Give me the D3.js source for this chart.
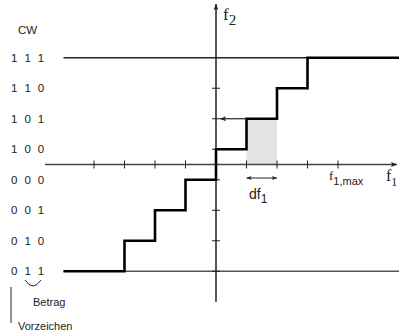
<!DOCTYPE html>
<html>
<head>
<meta charset="utf-8">
<script src="https://cdn.jsdelivr.net/npm/d3@7"></script>
<style>
body{margin:0;background:#fff;}
svg{display:block;}
text{font-family:"Liberation Sans",Arial,sans-serif;fill:#222;}
</style>
</head>
<body>
<div id="chart"></div>
<script>
// codewords, one per quantizer level (top to bottom)
var codewords=["1 1 1","1 1 0","1 0 1","1 0 0","0 0 0","0 0 1","0 1 0","0 1 1"];
var levels=[3.5,2.5,1.5,0.5,-0.5,-1.5,-2.5,-3.5];
// staircase: x where each level starts, last point closes the top step
var stepX=[-5,-3,-2,-1,0,1,2,3,6];
var stepY=[-3.5,-2.5,-1.5,-0.5,0.5,1.5,2.5,3.5,3.5];
var xTicks=[-4,-3,-2,-1,1,2,3,4];
var yTicks=[-3.5,-2.5,-1.5,-0.5,0.5,1.5,2.5];

var W=400,H=333;
var svg=d3.select("#chart").append("svg").attr("width",W).attr("height",H);
var x=d3.scaleLinear().domain([-5,6]).range([63.5,399]);
var y=d3.scaleLinear().domain([-4,4]).range([286.5,42.5]);

var defs=svg.append("defs");
defs.append("marker").attr("id","arr").attr("viewBox","0 0 10 10").attr("refX",10).attr("refY",5)
  .attr("markerWidth",10).attr("markerHeight",6).attr("markerUnits","userSpaceOnUse").attr("orient","auto-start-reverse")
  .append("path").attr("d","M0,1L10,5L0,9L2,5Z").attr("fill","#222");
defs.append("marker").attr("id","arrS").attr("viewBox","0 0 10 10").attr("refX",10).attr("refY",5)
  .attr("markerWidth",8).attr("markerHeight",5).attr("markerUnits","userSpaceOnUse").attr("orient","auto-start-reverse")
  .append("path").attr("d","M0,1L10,5L0,9L2,5Z").attr("fill","#222");

// shaded interval df1
svg.append("rect").attr("x",x(1)).attr("y",y(1.5)).attr("width",x(2)-x(1)).attr("height",y(0)-y(1.5))
  .attr("fill","#e3e3e3");

// max / min level lines
svg.append("line").attr("x1",x(-5)).attr("x2",x(6)).attr("y1",y(3.5)).attr("y2",y(3.5)).attr("stroke","#222").attr("stroke-width",1.3);
svg.append("line").attr("x1",x(-5)).attr("x2",x(6)).attr("y1",y(-3.5)).attr("y2",y(-3.5)).attr("stroke","#555").attr("stroke-width",1.6);

// x axis
svg.append("line").attr("x1",45).attr("x2",397).attr("y1",y(0)).attr("y2",y(0))
  .attr("stroke","#444").attr("stroke-width",1.3).attr("marker-end","url(#arr)");
svg.selectAll(".xt").data(xTicks).enter().append("line")
  .attr("x1",function(d){return x(d);}).attr("x2",function(d){return x(d);})
  .attr("y1",y(0)-4).attr("y2",y(0)+4).attr("stroke","#222").attr("stroke-width",1);

// y axis
svg.append("line").attr("x1",x(0)).attr("x2",x(0)).attr("y1",302).attr("y2",4)
  .attr("stroke","#000").attr("stroke-width",1.3).attr("marker-end","url(#arr)");
svg.selectAll(".yt").data(yTicks).enter().append("line")
  .attr("x1",x(0)-4).attr("x2",x(0)+4)
  .attr("y1",function(d){return y(d);}).attr("y2",function(d){return y(d);})
  .attr("stroke","#222").attr("stroke-width",1);

// staircase
var pts=stepX.map(function(v,i){return [v,stepY[i]];});
var line=d3.line().x(function(d){return x(d[0]);}).y(function(d){return y(d[1]);}).curve(d3.curveStepAfter);
svg.append("path").attr("d",line(pts)).attr("fill","none").attr("stroke","#000").attr("stroke-width",2.6);

// left arrow from step to f2 axis
svg.append("line").attr("x1",x(1)-1).attr("x2",x(0)+4).attr("y1",y(1.5)).attr("y2",y(1.5))
  .attr("stroke","#222").attr("stroke-width",1.2).attr("marker-end","url(#arr)");

// df1 double arrow
svg.append("line").attr("x1",x(1)).attr("x2",x(2)).attr("y1",178).attr("y2",178)
  .attr("stroke","#222").attr("stroke-width",1).attr("marker-start","url(#arrS)").attr("marker-end","url(#arrS)");
var df=svg.append("text").attr("x",249).attr("y",199).style("font-size","14px");
df.append("tspan").text("df");
df.append("tspan").attr("dy",4).style("font-size","12px").text("1");

// f1,max
var fm=svg.append("text").attr("x",329).attr("y",180).style("font-size","13px");
fm.append("tspan").style("font-family","Liberation Serif, serif").text("f");
fm.append("tspan").attr("dy",5).style("font-size","11px").text("1,max");

// axis names
var f1=svg.append("text").attr("x",386).attr("y",181).style("font-family","Liberation Serif, serif").style("font-size","16px");
f1.append("tspan").text("f");
f1.append("tspan").attr("dy",5).style("font-size","12px").text("1");
var f2=svg.append("text").attr("x",223).attr("y",20).style("font-family","Liberation Serif, serif").style("font-size","17px");
f2.append("tspan").text("f");
f2.append("tspan").attr("dy",5).style("font-size","15px").text("2");

// codeword column
svg.append("text").attr("x",18).attr("y",34).style("font-size","11.5px").text("CW");
svg.selectAll(".cw").data(codewords).enter().append("text")
  .attr("x",11).attr("y",function(d,i){return y(levels[i])+4;})
  .style("font-size","11.5px").style("letter-spacing","1.9px")
  .text(function(d){return d;});

// Betrag / Vorzeichen note
svg.append("path").attr("d","M25,280 Q33,292 41,280").attr("fill","none").attr("stroke","#222").attr("stroke-width",1);
svg.append("line").attr("x1",11).attr("x2",11).attr("y1",287).attr("y2",323).attr("stroke","#222").attr("stroke-width",1);
svg.append("text").attr("x",33).attr("y",306).style("font-size","11px").text("Betrag");
svg.append("text").attr("x",18).attr("y",330).style("font-size","11px").text("Vorzeichen");
</script>
</body>
</html>
